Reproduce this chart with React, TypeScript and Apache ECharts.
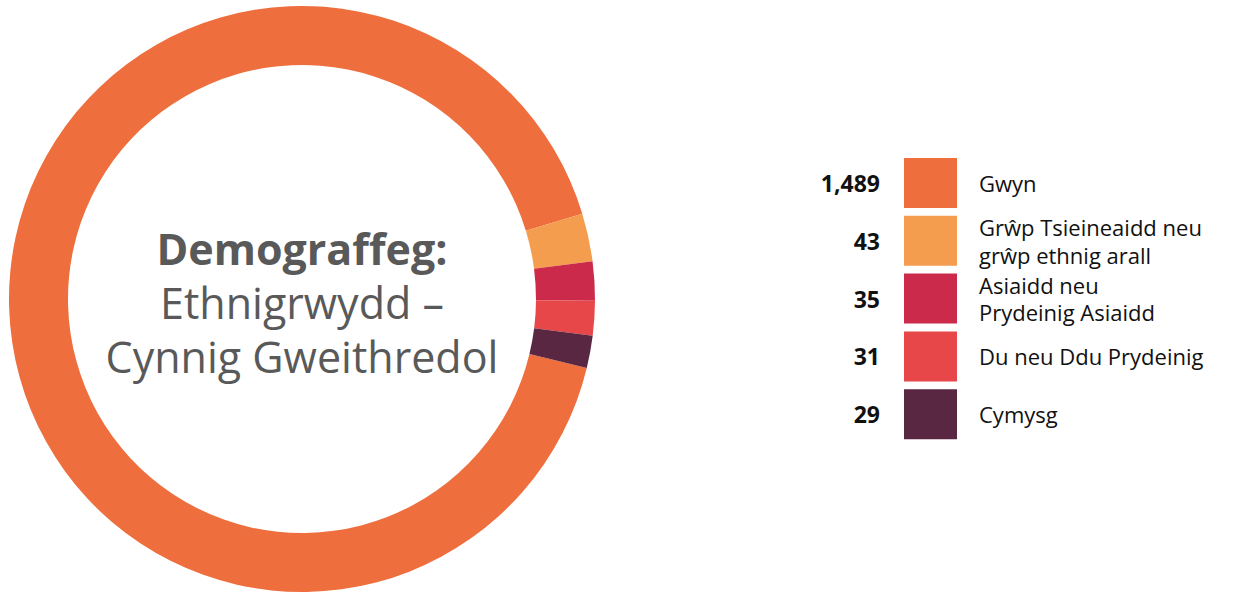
import React, { useEffect, useRef } from "react";
import * as echarts from "echarts";

const categories = [
  "Gwyn",
  "Grŵp Tsieineaidd neu\ngrŵp ethnig arall",
  "Asiaidd neu\nPrydeinig Asiaidd",
  "Du neu Ddu Prydeinig",
  "Cymysg",
];
const values = [1489, 43, 35, 31, 29];
const colors = ["#EE6E3D", "#F59D4E", "#CB2A4A", "#E8474A", "#5A2742"];
const titleLines = ["Demograffeg:", "Ethnigrwydd –", "Cynnig Gweithredol"];

const FONT = "'Open Sans', sans-serif";

export default function App() {
  const ref = useRef<HTMLDivElement>(null);
  useEffect(() => {
    if (!ref.current) return;
    const chart = echarts.init(ref.current, null, { renderer: "svg" });
    const graphics: any[] = [];
    titleLines.forEach((t, i) => {
      graphics.push({
        type: "text",
        x: 302,
        y: 248 + i * 54,
        silent: true,
        style: {
          text: t,
          fill: "#595959",
          font: `${i === 0 ? "bold " : ""}43px ${FONT}`,
          lineHeight: 50,
          textAlign: "center",
          textVerticalAlign: "middle",
        },
      });
    });
    categories.forEach((c, i) => {
      const top = 158 + i * 57.8;
      const cy = top + 25;
      graphics.push({
        type: "text",
        x: 880,
        y: cy,
        style: {
          text: values[i].toLocaleString("en-US"),
          fill: "#111",
          font: `bold 23px ${FONT}`,
          textAlign: "right",
          textVerticalAlign: "middle",
        },
      });
      graphics.push({
        type: "rect",
        shape: { x: 904, y: top, width: 53, height: 50 },
        style: { fill: colors[i] },
      });
      graphics.push({
        type: "text",
        x: 979,
        y: cy,
        style: {
          text: c,
          fill: "#111",
          font: `22px ${FONT}`,
          lineHeight: 27.5,
          textAlign: "left",
          textVerticalAlign: "middle",
        },
      });
    });

    chart.setOption({
      animation: false,
      graphic: graphics,
      series: [
        {
          type: "pie",
          center: [302, 299],
          radius: [234, 293],
          startAngle: -13.6,
          clockwise: true,
          label: { show: false },
          labelLine: { show: false },
          emphasis: { disabled: true },
          silent: true,
          itemStyle: { borderWidth: 0 },
          data: categories.map((c, i) => ({
            name: c,
            value: values[i],
            itemStyle: { color: colors[i] },
          })),
        },
      ],
    });
    return () => chart.dispose();
  }, []);
  return (
    <div
      ref={ref}
      style={{ position: "fixed", left: 0, top: 0, width: 1243, height: 595, background: "#fff" }}
    />
  );
}
